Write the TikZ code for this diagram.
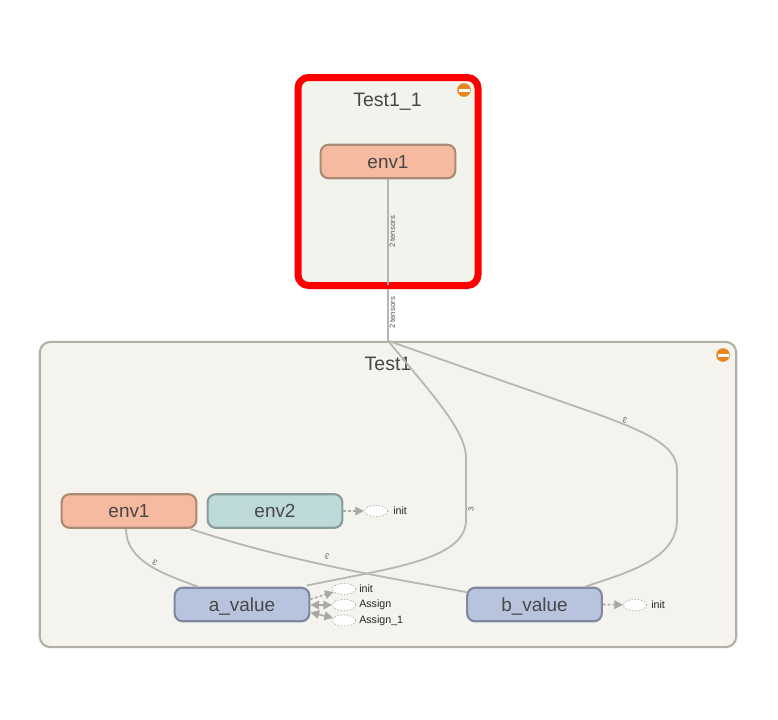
\documentclass[tikz,border=0pt]{standalone}
\usepackage{fontspec}
\setmainfont{Liberation Sans}
\usetikzlibrary{arrows.meta,shapes.geometric}
\definecolor{edgec}{HTML}{B8B6B0}
\definecolor{auxc}{HTML}{A8A8A8}
\definecolor{txtc}{HTML}{474747}
\definecolor{orangec}{HTML}{E9851F}
\newcommand{\optext}[1]{\smash{\raisebox{-5pt}{#1}}}
\tikzset{
  x=0.75pt,y=-0.75pt,
  opbox/.style={draw,rounded corners=6pt,line width=1.6pt,minimum width=101pt,minimum height=25.2pt,inner sep=0pt,text=txtc,font=\fontsize{14.2}{16}\selectfont},
  group/.style={rounded corners=8pt,inner sep=0pt},
  title/.style={text=txtc,font=\fontsize{14.6}{16}\selectfont,inner sep=0pt},
  conn/.style={draw=edgec,line width=1.35pt},
  auxnode/.style={ellipse,draw=black!28,fill=white,dash pattern=on 1.2pt off 1.2pt,line width=0.6pt,minimum width=17.5pt,minimum height=8.5pt,inner sep=0pt},
  auxlabel/.style={anchor=west,inner sep=0pt,font=\fontsize{8}{9}\selectfont,text=black!85},
  dotedge/.style={draw=auxc,line width=1.2pt,dash pattern=on 2pt off 1.6pt,-{Triangle[length=6.5pt,width=6.5pt,fill=auxc]}},
  refedge/.style={draw=auxc,line width=1.2pt,{Triangle[length=6.5pt,width=6.5pt,fill=auxc]}-{Triangle[length=6.5pt,width=6.5pt,fill=auxc]}},
  tinylabel/.style={inner sep=0pt,text=black!65,font=\fontsize{5.8}{6}\selectfont},
}
\begin{document}
\begin{tikzpicture}
\useasboundingbox (0,0) rectangle (778,719);
\fill[white] (0,0) rectangle (778,719);
% groups
\node[group,draw=red,line width=5.25pt,fill={rgb,255:red,240;green,244;blue,237},minimum width=135pt,minimum height=156pt] (g1) at (388,181.5) {};
\node[group,draw={rgb,255:red,178;green,175;blue,166},line width=1.6pt,fill={rgb,255:red,244;green,243;blue,238},minimum width=522.3pt,minimum height=229pt] (g2) at (388,494.5) {};
\node[title] (t1) at (387.5,100) {\optext{Test1\_1}};
\node[title] (t2) at (388,364) {\optext{Test1}};
\fill[orangec] (464,90) circle (5.1pt);
\fill[white] (458.5,88.5) rectangle (469.5,91.5);
\fill[orangec] (723,355) circle (5.1pt);
\fill[white] (717.5,353.5) rectangle (728.5,356.5);
% op nodes
\node[opbox,draw={rgb,255:red,170;green,138;blue,117},fill={rgb,255:red,245;green,186;blue,159}] (top) at (388,161.5) {\optext{env1}};
\node[opbox,draw={rgb,255:red,170;green,138;blue,117},fill={rgb,255:red,245;green,186;blue,159}] (e1) at (129,511) {\optext{env1}};
\node[opbox,draw={rgb,255:red,136;green,156;blue,156},fill={rgb,255:red,189;green,217;blue,217}] (e2) at (275,511) {\optext{env2}};
\node[opbox,draw={rgb,255:red,127;green,136;blue,159},fill={rgb,255:red,184;green,196;blue,221}] (a) at (242,604.5) {\optext{a\_value}};
\node[opbox,draw={rgb,255:red,127;green,136;blue,159},fill={rgb,255:red,184;green,196;blue,221}] (b) at (534.5,604.5) {\optext{b\_value}};
% aux nodes
\node[auxnode] (ai) at (344,589) {};
\node[auxnode] (aa) at (344,605) {};
\node[auxnode] (ab) at (344,620.5) {};
\node[auxnode] (e2i) at (376,511) {};
\node[auxnode] (bi) at (635,605) {};
\node[auxlabel] (lai) at (359,589) {init};
\node[auxlabel] (laa) at (359,605) {Assign};
\node[auxlabel] (lab) at (359,620.5) {Assign\_1};
\node[auxlabel] (le2) at (393,511) {init};
\node[auxlabel] (lb) at (651,605) {init};
% connectors
\coordinate (J) at (g2.north-|top.south);
\coordinate (R) at ([yshift=3pt]g1.south);
\draw[conn] (top.south) -- (R);
\draw[conn] (g1.south) -- (J);
\draw[conn] (J) .. controls (430,392) and (466,430) .. (466,458) -- (466,520) .. controls (466,560) and (390,568) .. ([xshift=48.5pt,yshift=0.8pt]a.north);
\draw[conn] (J) -- (600,415) .. controls (645,432) and (677,445) .. (677,470) -- (677,520) .. controls (677,560) and (625,573) .. ([xshift=38pt]b.north);
\draw[conn] ([xshift=-2.2pt]e1.south) .. controls (126,560) and (160,573) .. ([xshift=-33pt]a.north);
\draw[conn] ([xshift=46pt]e1.south) .. controls (290,562) and (390,578) .. (b.west|-0,592);
% aux connectors
\draw[dotedge] ([yshift=4pt]a.east) -- (ai);
\draw[refedge] (a.east|-aa) -- (aa);
\draw[refedge] ([yshift=6pt]a.east|-ab) -- (ab);
\draw[dotedge] (e2.east) -- (e2i);
\draw[dotedge] (b.east) -- (bi);
% edge labels
\node[tinylabel,rotate=90] (l1) at (392.5,232) {2 tensors};
\node[tinylabel,rotate=90] (l2) at (392.5,313) {2 tensors};
\node[tinylabel,rotate=90] (l3) at (471,509) {3};
\node[tinylabel,rotate=160] (l4) at (625,420) {3};
\node[tinylabel,rotate=165] (l5) at (327,557) {3};
\node[tinylabel,rotate=150] (l6) at (155,563) {3};
\end{tikzpicture}
\end{document}
